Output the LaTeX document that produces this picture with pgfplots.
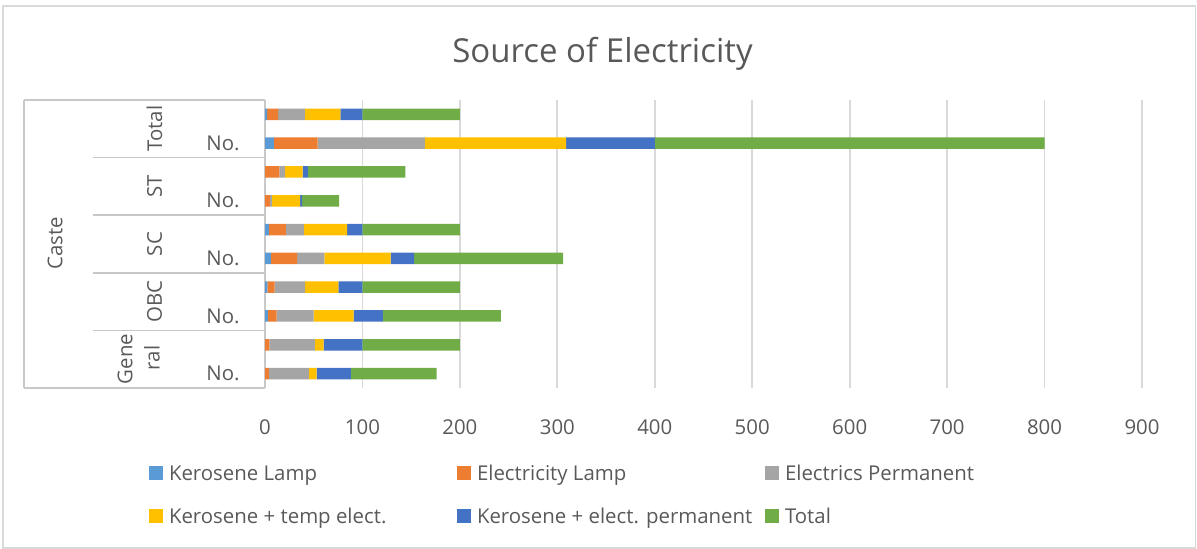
\documentclass[border=0pt]{standalone}
\usepackage{pgfplots}
\pgfplotsset{compat=1.18}
\usepackage{pgfplotstable}
\usepackage{fontspec}
\setmainfont{Open Sans}
\definecolor{txt}{RGB}{89,89,89}
\definecolor{gridc}{RGB}{217,217,217}
\definecolor{axc}{RGB}{200,200,200}
\definecolor{cKL}{RGB}{91,155,213}
\definecolor{cEL}{RGB}{237,125,49}
\definecolor{cEP}{RGB}{165,165,165}
\definecolor{cKT}{RGB}{255,192,0}
\definecolor{cKP}{RGB}{68,114,196}
\definecolor{cTot}{RGB}{112,173,71}

% rows bottom to top: General No., General, OBC No., OBC, SC No., SC, ST No., ST, Total No., Total
\pgfplotstableread{
pos KL EL EP KT KP Tot
0 0 4 41 8 35 88
1 0 4.5 46.6 9.1 39.8 100
2 3 9 38 41 30 121
3 2.5 7.4 31.4 33.9 24.8 100
4 6 27 28 68 24 153
5 3.9 17.6 18.3 44.4 15.7 100
6 0 5 2 29 2 38
7 0 14.8 5.5 18.3 5.5 100
8 9 45 110 145 91 400
9 2.25 11.25 27.5 36.25 22.75 100
}\data

\newcommand{\lgd}[1]{\makebox[144pt][l]{\rule[-2.5pt]{0pt}{12pt}#1}}

\begin{document}
\begin{tikzpicture}[x=1pt,y=1pt]
\useasboundingbox (0,0) rectangle (598.5,274.5);
\draw[gridc, line width=0.75pt] (1.5,0.4) rectangle (597.8,271.5);
\begin{axis}[
  at={(132.5pt,80.5pt)}, anchor=south west,
  scale only axis, width=438.5pt, height=144pt,
  xbar stacked, bar width=5.75pt,
  xmin=0, xmax=900, ymin=-0.5, ymax=9.5,
  xtick={0,100,...,900},
  ytick={0,...,9},
  yticklabels={No.,,No.,,No.,,No.,,No.,},
  axis y line*=left, axis x line*=bottom,
  x axis line style={draw=none},
  y axis line style={axc, line width=0.75pt},
  tick style={draw=none}, major tick length=0pt,
  xmajorgrids, grid style={gridc, line width=0.9pt},
  ticklabel style={font=\fontsize{10.2}{12}\selectfont, text=txt},
  xticklabel style={anchor=base, yshift=-23.5pt},
  yticklabel style={anchor=east, xshift=-9.2pt},
  /pgf/number format/assume math mode=true,
  legend columns=3,
  legend cell align=left,
  legend image code/.code={\fill[#1] (0pt,-3.5pt) rectangle (7pt,3.5pt);},
  legend style={at={(axis description cs:-0.13227,-0.2559)}, anchor=north west,
    draw=none, fill=none, inner sep=0pt, outer sep=0pt,
    font=\fontsize{10.2}{12}\selectfont, text=txt,
    nodes={inner sep=0pt, outer sep=0pt},
    row sep=10.5pt,
    /tikz/every odd column/.append style={column sep=3pt},
    /tikz/every even column/.append style={column sep=0pt}},
]
\addplot[fill=cKL, draw=none] table[x=KL, y=pos]{\data};
\addlegendentry{\lgd{Kerosene Lamp}}
\addplot[fill=cEL, draw=none] table[x=EL, y=pos]{\data};
\addlegendentry{\lgd{Electricity Lamp}}
\addplot[fill=cEP, draw=none] table[x=EP, y=pos]{\data};
\addlegendentry{\lgd{Electrics Permanent}}
\addplot[fill=cKT, draw=none] table[x=KT, y=pos]{\data};
\addlegendentry{\lgd{Kerosene + temp elect.}}
\addplot[fill=cKP, draw=none] table[x=KP, y=pos]{\data};
\addlegendentry{\lgd{Kerosene + elect. permanent}}
\addplot[fill=cTot, draw=none] table[x=Tot, y=pos]{\data};
\addlegendentry{\lgd{Total}}
\end{axis}
% category box
\draw[axc, line width=0.75pt] (12,224.5) -- (132.5,224.5);
\draw[axc, line width=0.75pt] (12,80.5) -- (132.5,80.5);
\draw[axc, line width=0.75pt] (12,224.5) -- (12,80.5);
\foreach \yy in {195.7,166.9,138.1,109.3}
  \draw[axc, line width=0.75pt] (46.5,\yy) -- (132.5,\yy);
\begin{scope}[every node/.style={font=\fontsize{10.2}{12}\selectfont, text=txt, inner sep=0pt, rotate=90}]
\node at (27.5,153) {Caste};
\node at (77.25,210.1) {Total};
\node at (77.25,181.3) {ST};
\node at (77.25,152.5) {SC};
\node at (77.25,123.7) {OBC};
\node at (62.5,95) {Gene};
\node at (76,95.5) {ral};
\end{scope}
\node[font=\fontsize{16.5}{19}\selectfont, text=txt, anchor=base, inner sep=0pt] at (301.25,243.15) {Source of Electricity};
\end{tikzpicture}
\end{document}
